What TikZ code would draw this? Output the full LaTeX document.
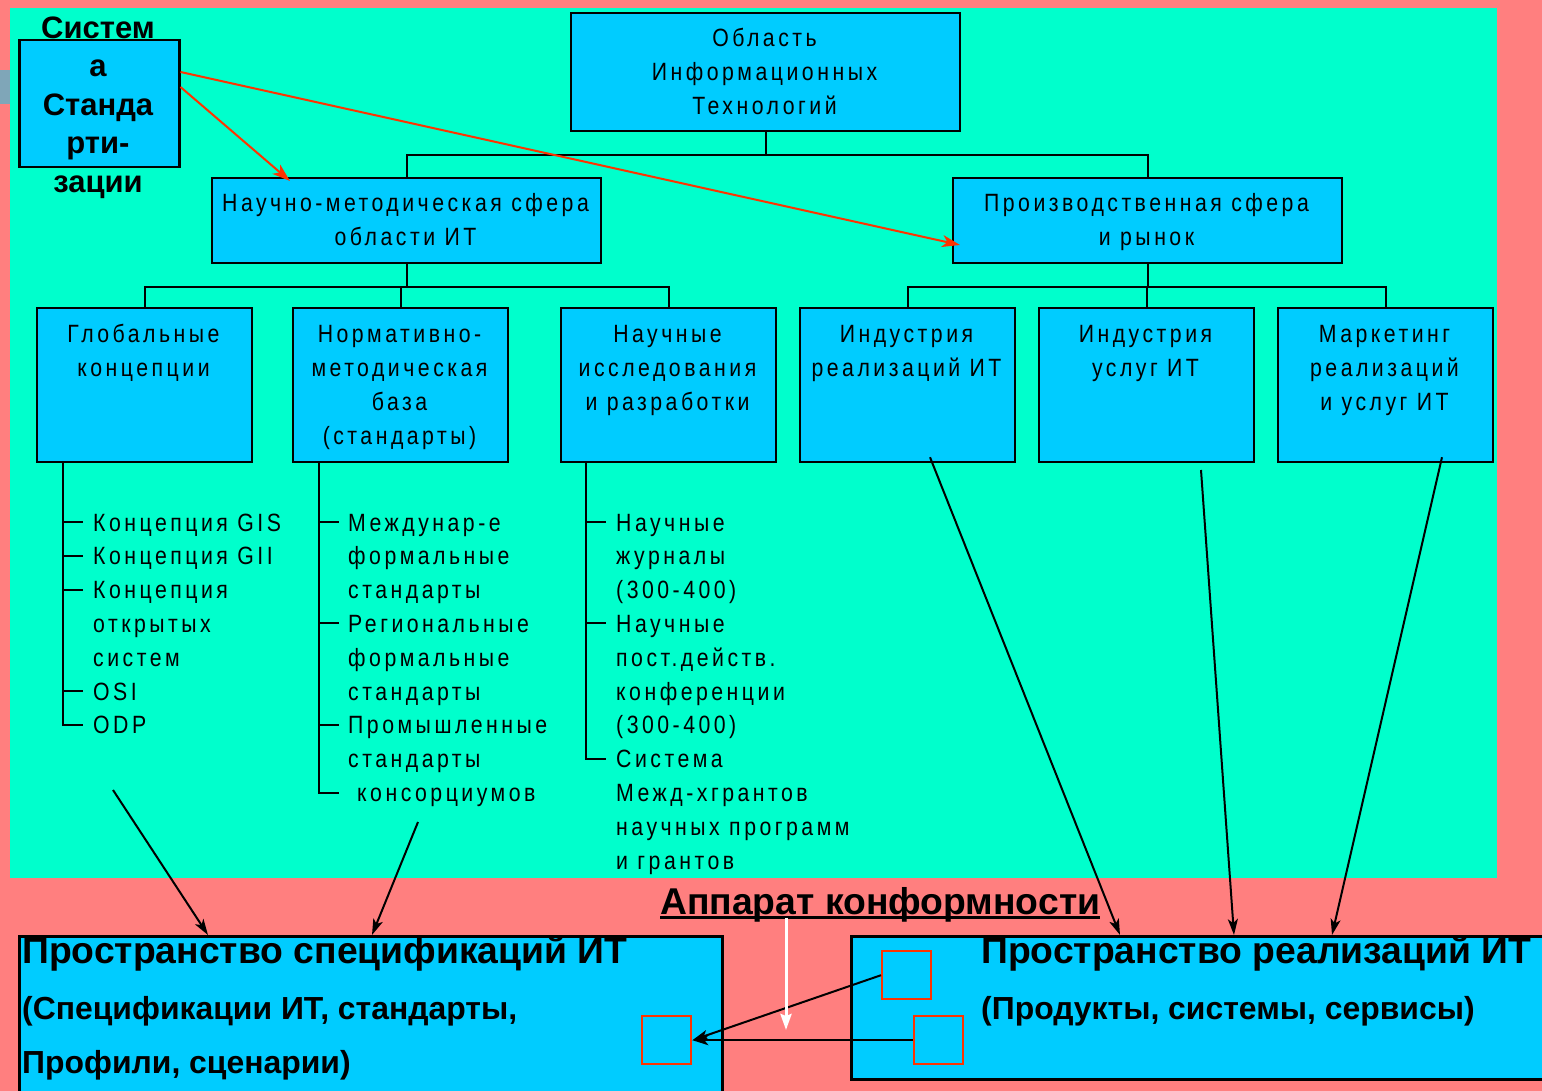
\documentclass[tikz,border=0pt]{standalone}
\usepackage{fontspec}
\setmainfont{Liberation Sans}
\newfontfamily\nfont[FakeStretch=0.85,LetterSpace=14]{Liberation Sans}
\usetikzlibrary{arrows.meta}
\definecolor{bgred}{HTML}{FF7F7F}
\definecolor{panel}{HTML}{00FFCC}
\definecolor{cyanb}{HTML}{00CCFF}
\definecolor{grayb}{HTML}{7FA6B8}
\definecolor{redl}{HTML}{FF3300}
\begin{document}
\begin{tikzpicture}[x=1pt,y=-1pt,
 box/.style={draw=black, fill=cyanb, line width=2.2pt, inner sep=0pt, anchor=north west},
 rowbox/.style={box, minimum width=215pt, minimum height=154pt},
 midbox/.style={box, minimum width=389pt, minimum height=85pt},
 sq/.style={draw=redl, fill=cyanb, line width=2.4pt, inner sep=0pt, anchor=north west, minimum width=49pt, minimum height=48pt},
 ntext/.style={font=\nfont\fontsize{25}{33.8}\selectfont, inner sep=0pt, anchor=north, align=center},
 ltext/.style={font=\nfont\fontsize{25}{33.8}\selectfont, inner sep=0pt, anchor=north west, align=left},
 btitle/.style={font=\bfseries\fontsize{37.3}{40}\selectfont, inner sep=0pt, anchor=base west},
 bsub/.style={font=\bfseries\fontsize{31.9}{36}\selectfont, inner sep=0pt, anchor=base west},
 tree/.style={line width=2pt, black},
 barr/.style={line width=2pt, black, -{Stealth[length=16pt,width=10pt,inset=4pt]}},
 rarr/.style={draw=redl, line width=2pt, -{Stealth[length=18pt,width=12pt,inset=5pt]}},
 warr/.style={draw=white, line width=3pt, -{Stealth[length=16pt,width=11pt,inset=2pt]}},
]
\fill[bgred] (0,0) rectangle (1542,1091);
\useasboundingbox (0,0) rectangle (1542,1091);
\fill[panel] (10,8) rectangle (1497,878);
\fill[grayb] (0,70) rectangle (10,104);

% top
\node[box, minimum width=389pt, minimum height=118pt] (top) at (570,12) {};
\node[ntext] (topt) at (764.5,23) {\strut Область\\Информационных\\Технологий};

% middle
\node[midbox] (nm) at (211,177) {};
\node[ntext] (nmt) at (405.5,188) {\strut Научно-методическая сфера\\области ИТ};
\node[midbox] (pr) at (952,177) {};
\node[ntext] (prt) at (1146.5,188) {\strut Производственная сфера\\и рынок};

% row 3
\node[rowbox] (g) at (36,307) {};
\node[ntext] (gt) at (143.5,319) {\strut Глобальные\\концепции};
\node[rowbox] (n) at (292,307) {};
\node[ntext] (nt) at (399.5,319) {\strut Нормативно-\\методическая\\база\\(стандарты)};
\node[rowbox] (s) at (560,307) {};
\node[ntext] (st) at (667.5,319) {\strut Научные\\исследования\\и разработки};
\node[rowbox] (i1) at (799,307) {};
\node[ntext] (i1t) at (906.5,319) {\strut Индустрия\\реализаций ИТ};
\node[rowbox] (i2) at (1038,307) {};
\node[ntext] (i2t) at (1145.5,319) {\strut Индустрия\\услуг ИТ};
\node[rowbox] (m) at (1277,307) {};
\node[ntext] (mt) at (1384.5,319) {\strut Маркетинг\\реализаций\\и услуг ИТ};

% tree connectors
\draw[tree] (top.south) -- ++(0,23) -| (nm.north);
\draw[tree] (top.south) -- ++(0,23) -| (pr.north);
\foreach \b in {g,n,s} \draw[tree] (nm.south) -- ++(0,23) -| (\b.north);
\foreach \b in {i1,i2,m} \draw[tree] (pr.south) -- ++(0,23) -| (\b.north);

% lists
\draw[tree] ([xshift=27pt]g.south west) |- (83,725);
\foreach \yy in {522,556,590,691} \draw[tree] (63,\yy) -- (83,\yy);
\node[ltext] (gl) at (93,507.3) {\strut Концепция GIS\\Концепция GII\\Концепция\\открытых\\систем\\OSI\\ODP};

\draw[tree] ([xshift=27pt]n.south west) |- (339,793);
\foreach \yy in {522,623,725} \draw[tree] (319,\yy) -- (339,\yy);
\node[ltext] (nl) at (348,507.3) {\strut Междунар-е\\формальные\\стандарты\\Региональные\\формальные\\стандарты\\Промышленные\\стандарты\\\hspace*{9pt}консорциумов};

\draw[tree] ([xshift=26pt]s.south west) |- (606,759);
\foreach \yy in {522,623} \draw[tree] (586,\yy) -- (606,\yy);
\node[ltext] (sl) at (616,507.3) {\strut Научные\\журналы\\(300-400)\\Научные\\пост.действ.\\конференции\\(300-400)\\Система\\Межд-хгрантов\\научных программ\\и грантов};

% standardization box
\node[box, line width=2.5pt, minimum width=160pt, minimum height=127pt] (std) at (18,39) {};
\node[font=\bfseries\fontsize{31}{38.5}\selectfont, align=center, inner sep=0pt, anchor=north] (stdt) at (98,11) {\strut Систем\\а\\Станда\\рти-\\зации};
\draw[rarr] ([yshift=-48pt]std.north east) -- ([xshift=79pt,yshift=-4pt]nm.north west);
\draw[rarr] ([yshift=-33pt]std.north east) -- ([xshift=8pt,yshift=-68pt]pr.north west);

% bottom boxes
\node[box, line width=3pt, minimum width=703pt, minimum height=170pt] (specL) at (18,935) {};
\node[box, line width=3pt, minimum width=710pt, minimum height=143pt] (realR) at (850,935) {};
\node[btitle] (sl1) at (22,963) {Пространство спецификаций ИТ};
\node[bsub] (sl2) at (22,1019) {(Спецификации ИТ, стандарты,};
\node[bsub] (sl3) at (22,1073) {Профили, сценарии)};
\node[btitle] (rr1) at (981,963) {Пространство реализаций ИТ};
\node[bsub] (rr2) at (981,1019) {(Продукты, системы, сервисы)};
\node[btitle] (app) at (660,914) {Аппарат конформности};
\draw[line width=3pt] ([yshift=-3.5pt]app.base west) -- ([yshift=-3.5pt]app.base east);

% black arrows to bottom boxes
\coordinate (a1) at (113,790);
\coordinate (a2) at (418,822);
\coordinate (a4) at (1201,470);
\draw[barr] (a1) -- ([xshift=190pt]specL.north west);
\draw[barr] (a2) -- ([xshift=354pt]specL.north west);
\draw[barr] ([xshift=131pt,yshift=6pt]i1.south west) -- ([xshift=270pt]realR.north west);
\draw[barr] (a4) -- ([xshift=384pt]realR.north west);
\draw[barr] ([xshift=165pt,yshift=6pt]m.south west) -- ([xshift=482pt]realR.north west);

% conformity squares
\node[sq] (sqA) at (881,950) {};
\node[sq] (sqB) at (913,1015) {};
\node[sq] (sqC) at (641,1015) {};
\draw[barr] (sqA.west) -- (sqC.east);
\draw[barr] (sqB.west) -- (sqC.east);

\coordinate (w1) at (786,918);
\coordinate (w2) at (786,1030);
\draw[warr] (w1) -- (w2);
\end{tikzpicture}
\end{document}
